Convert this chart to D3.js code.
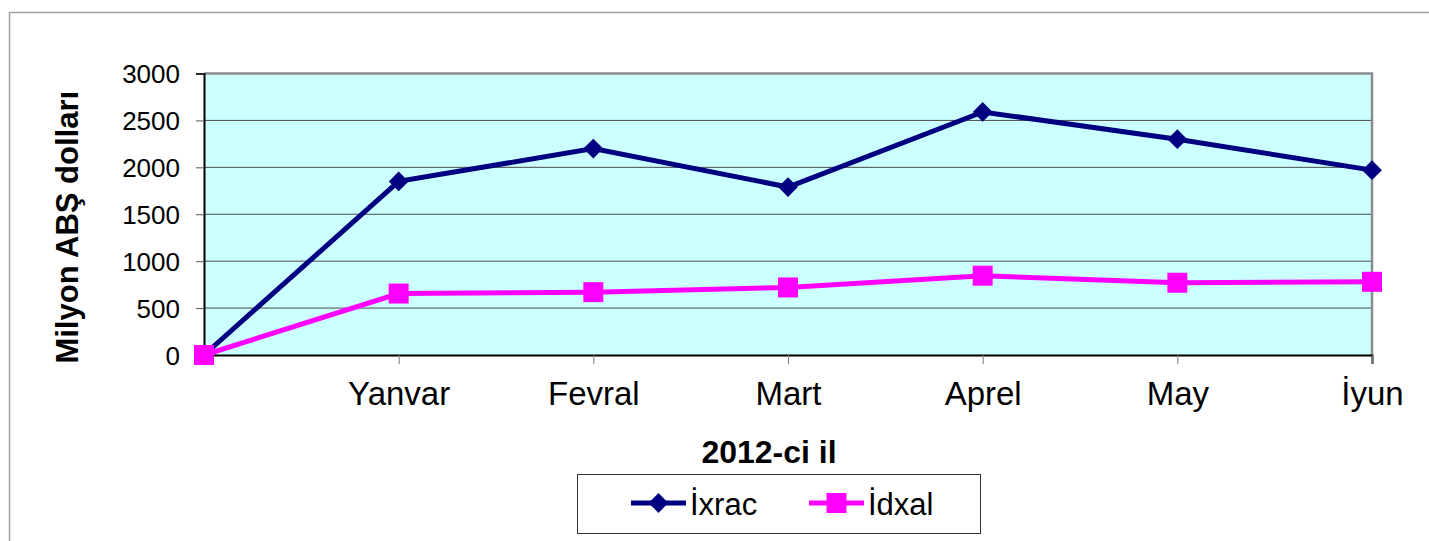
<!DOCTYPE html>
<html>
<head>
<meta charset="utf-8">
<script src="https://cdn.jsdelivr.net/npm/d3@7"></script>
<style>
  body { margin: 0; background: #fff; }
  svg { display: block; font-family: Arial, "Liberation Sans", sans-serif; }
</style>
</head>
<body>
<svg></svg>
<script>
const width = 1429;
const height = 541;

// data
const months = ["", "Yanvar", "Fevral", "Mart", "Aprel", "May", "İyun"];
const ixrac = [0, 1850, 2200, 1790, 2590, 2300, 1970];
const idxal = [0, 655, 670, 720, 845, 770, 780];
const yTicks = [0, 500, 1000, 1500, 2000, 2500, 3000];

let svg = d3.select("svg")
    .attr("width", width)
    .attr("height", height);

const plot = {left: 204, right: 1372, top: 73.5, bottom: 355};

let x = d3.scalePoint()
    .domain(months)
    .range([plot.left, plot.right]);

let y = d3.scaleLinear()
    .domain([0, 3000])
    .range([plot.bottom, plot.top]);

// outer chart frame (runs off the window on right and bottom)
svg.append("rect")
    .attr("x", 9.5)
    .attr("y", 12.5)
    .attr("width", width + 20)
    .attr("height", height + 20)
    .style("fill", "none")
    .style("stroke", "#a0a0a0")
    .style("stroke-width", 1.5);

// plot background
svg.append("rect")
    .attr("x", plot.left)
    .attr("y", plot.top)
    .attr("width", plot.right - plot.left)
    .attr("height", plot.bottom - plot.top)
    .style("fill", "#ccffff");

// grid lines
svg.append("g")
    .selectAll("line")
    .data(yTicks.filter(d => d > 0 && d < 3000))
    .join("line")
    .attr("x1", plot.left)
    .attr("x2", plot.right)
    .attr("y1", d => y(d))
    .attr("y2", d => y(d))
    .style("stroke", "#4a4a4a")
    .style("stroke-width", 1);

// top and right border
svg.append("path")
    .attr("d", `M${plot.left},${plot.top}H${plot.right}V${plot.bottom}`)
    .style("fill", "none")
    .style("stroke", "#8c8c8c")
    .style("stroke-width", 2.5);

// y axis
let yAxis = svg.append("g")
    .attr("transform", `translate(${plot.left},0)`)
    .call(d3.axisLeft(y).tickValues(yTicks).tickFormat(d3.format("d")).tickSize(8).tickPadding(16));
yAxis.select(".domain").style("stroke", "#000").style("stroke-width", 2);
yAxis.selectAll(".tick line").style("stroke", "#555");
yAxis.selectAll(".tick text")
    .style("font-size", "26px")
    .style("fill", "#000")
    .attr("dy", "0.36em");

// x axis
let xAxis = svg.append("g")
    .attr("transform", `translate(0,${plot.bottom})`)
    .call(d3.axisBottom(x).tickSize(9));
xAxis.select(".domain").style("stroke", "#000").style("stroke-width", 2);
xAxis.selectAll(".tick line").style("stroke", "#777");
xAxis.selectAll(".tick text")
    .attr("y", 50)
    .attr("dy", 0)
    .style("font-size", "33px")
    .style("fill", "#000");

// axis titles
svg.append("text")
    .attr("transform", `translate(78,${(plot.top + plot.bottom) / 2 + 13}) rotate(-90)`)
    .attr("text-anchor", "middle")
    .style("font-size", "31px")
    .style("font-weight", "bold")
    .text("Milyon ABŞ dolları");

svg.append("text")
    .attr("x", (plot.left + plot.right) / 2 - 19)
    .attr("y", 463)
    .attr("text-anchor", "middle")
    .style("font-size", "32px")
    .style("font-weight", "bold")
    .text("2012-ci il");

// lines
const line = d3.line()
    .x((d, i) => x(months[i]))
    .y(d => y(d));

const diamond = d3.symbol().type(d3.symbolDiamond2).size(250);
const square = d3.symbol().type(d3.symbolSquare).size(400);

svg.append("path")
    .attr("d", line(ixrac))
    .style("fill", "none")
    .style("stroke", "#000080")
    .style("stroke-width", 5);

svg.append("g")
    .selectAll("path")
    .data(ixrac)
    .join("path")
    .attr("transform", (d, i) => `translate(${x(months[i])},${y(d)})`)
    .attr("d", diamond)
    .style("fill", "#000080");

svg.append("path")
    .attr("d", line(idxal))
    .style("fill", "none")
    .style("stroke", "#ff00ff")
    .style("stroke-width", 5);

svg.append("g")
    .selectAll("path")
    .data(idxal)
    .join("path")
    .attr("transform", (d, i) => `translate(${x(months[i])},${y(d)})`)
    .attr("d", square)
    .style("fill", "#ff00ff");

// legend
let legend = svg.append("g");
legend.append("rect")
    .attr("x", 577.5)
    .attr("y", 474.5)
    .attr("width", 403)
    .attr("height", 59)
    .style("fill", "#fff")
    .style("stroke", "#333")
    .style("stroke-width", 1);

const legendItems = [
    {name: "İxrac", color: "#000080", sym: diamond, x: 631},
    {name: "İdxal", color: "#ff00ff", sym: square, x: 809}
];

legendItems.forEach(it => {
    legend.append("line")
        .attr("x1", it.x)
        .attr("x2", it.x + 55)
        .attr("y1", 503)
        .attr("y2", 503)
        .style("stroke", it.color)
        .style("stroke-width", 5);
    legend.append("path")
        .attr("transform", `translate(${it.x + 27.5},503)`)
        .attr("d", it.sym)
        .style("fill", it.color);
    legend.append("text")
        .attr("x", it.x + 59)
        .attr("y", 515)
        .style("font-size", "31px")
        .text(it.name);
});
</script>
</body>
</html>
